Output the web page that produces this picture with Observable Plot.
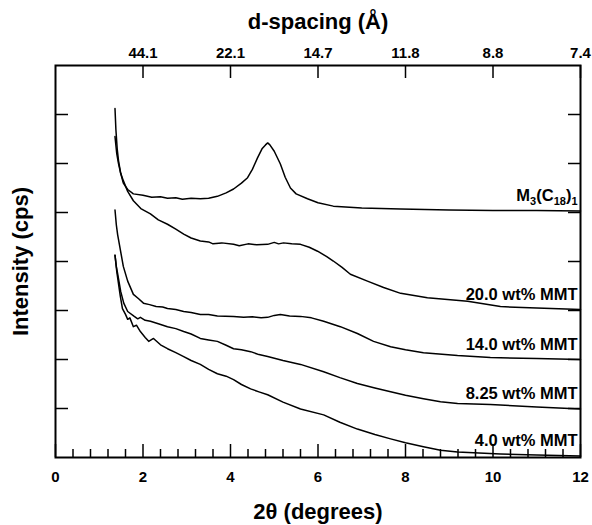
<!DOCTYPE html>
<html><head><meta charset="utf-8">
<script src="https://cdn.jsdelivr.net/npm/d3@7"></script>
<script src="https://cdn.jsdelivr.net/npm/@observablehq/plot@0.6"></script>
<style>body{margin:0;background:#fff} svg{display:block}</style>
</head><body><div id="chart"></div>
<script>
const seriesNames = ["M3(C18)1", "20.0 wt% MMT", "14.0 wt% MMT", "8.25 wt% MMT", "4.0 wt% MMT"];

const m3C18 = [[1.36,7.12],[1.38,6.7],[1.41,6.3],[1.44,6.06],[1.49,5.8],[1.55,5.6],[1.65,5.47],[1.78,5.38],[2.0,5.35],[2.2,5.31],[2.4,5.32],[2.56,5.29],[2.75,5.30],[2.9,5.27],[3.1,5.29],[3.31,5.28],[3.5,5.29],[3.7,5.33],[3.9,5.4],[4.07,5.48],[4.25,5.6],[4.39,5.71],[4.5,5.88],[4.62,6.12],[4.72,6.3],[4.8,6.38],[4.85,6.42],[4.9,6.38],[5.0,6.25],[5.14,5.99],[5.25,5.72],[5.37,5.50],[5.5,5.38],[5.76,5.28],[6.0,5.2],[6.35,5.13],[7.0,5.09],[7.89,5.07],[9,5.05],[10,5.04],[11,5.04],[12,5.03]];
const mmt200 = [[1.36,6.55],[1.40,6.2],[1.44,6.0],[1.49,5.8],[1.55,5.65],[1.65,5.43],[1.78,5.24],[1.95,5.08],[2.17,4.97],[2.35,4.85],[2.56,4.76],[2.75,4.66],[2.93,4.56],[3.1,4.48],[3.31,4.42],[3.5,4.40],[3.6,4.36],[3.8,4.38],[4.07,4.35],[4.2,4.32],[4.4,4.36],[4.6,4.34],[4.85,4.35],[5.0,4.39],[5.1,4.36],[5.21,4.38],[5.4,4.36],[5.6,4.35],[5.8,4.29],[5.99,4.21],[6.2,4.1],[6.35,4.01],[6.55,3.88],[6.74,3.74],[7.13,3.60],[7.5,3.47],[7.89,3.35],[8.5,3.26],[9.42,3.19],[10.17,3.08],[11,3.05],[12,3.02]];
const mmt140 = [[1.36,5.05],[1.39,4.75],[1.42,4.55],[1.46,4.35],[1.55,3.9],[1.65,3.60],[1.78,3.33],[1.9,3.24],[2.01,3.15],[2.15,3.12],[2.3,3.08],[2.45,3.07],[2.56,3.04],[2.75,3.02],[2.93,2.98],[3.1,2.96],[3.31,2.92],[3.5,2.92],[3.7,2.89],[4.07,2.88],[4.3,2.86],[4.5,2.87],[4.7,2.85],[4.85,2.86],[5.0,2.9],[5.14,2.92],[5.35,2.89],[5.6,2.88],[5.85,2.85],[6.13,2.78],[6.51,2.67],[6.90,2.53],[7.27,2.37],[7.66,2.26],[8.0,2.2],[8.41,2.14],[9.19,2.08],[9.94,2.04],[11,2.02],[12,2.00]];
const mmt825 = [[1.36,4.13],[1.39,3.9],[1.42,3.75],[1.49,3.39],[1.56,3.15],[1.65,2.98],[1.8,2.88],[1.88,2.83],[1.94,2.86],[2.05,2.80],[2.17,2.78],[2.35,2.73],[2.56,2.67],[2.75,2.63],[2.93,2.57],[3.1,2.52],[3.31,2.43],[3.5,2.40],[3.70,2.37],[3.9,2.29],[4.07,2.22],[4.25,2.20],[4.46,2.16],[4.65,2.10],[4.85,2.06],[5.2,1.98],[5.6,1.90],[6.13,1.75],[6.5,1.63],[6.90,1.51],[7.3,1.42],[7.66,1.34],[8.0,1.27],[8.41,1.20],[8.8,1.14],[9.19,1.10],[9.94,1.08],[11,1.03],[12,0.99]];
const mmt40 = [[1.36,4.13],[1.40,3.8],[1.44,3.55],[1.48,3.3],[1.53,3.04],[1.6,2.92],[1.65,2.82],[1.7,2.85],[1.78,2.67],[1.85,2.70],[1.94,2.57],[2.05,2.45],[2.13,2.37],[2.24,2.43],[2.4,2.3],[2.56,2.22],[2.75,2.14],[2.93,2.06],[3.1,1.98],[3.31,1.90],[3.5,1.80],[3.70,1.71],[3.9,1.66],[4.07,1.59],[4.25,1.49],[4.46,1.40],[4.65,1.34],[4.85,1.28],[5.2,1.13],[5.6,0.99],[6.13,0.87],[6.5,0.72],[6.90,0.58],[7.3,0.47],[7.66,0.38],[8.0,0.3],[8.41,0.22],[8.8,0.15],[9.19,0.11],[10.17,0.07],[11,0.05],[12,0.03]];

const bottomTicks = [0, 2, 4, 6, 8, 10, 12];
const minorTicks = [0.4, 0.8, 1.2, 1.6, 2.4, 2.8, 3.2, 3.6, 4.4, 4.8, 5.2, 5.6, 6.4, 6.8, 7.2, 7.6, 8.4, 8.8, 9.2, 9.6, 10.4, 10.8, 11.2, 11.6];
const topTicks = [2, 4, 6, 8, 10, 12];
const topTickLabels = ["44.1", "22.1", "14.7", "11.8", "8.8", "7.4"];
const yTicks = [1, 2, 3, 4, 5, 6, 7];

const series = [m3C18, mmt200, mmt140, mmt825, mmt40];
const data = series.flatMap((s, i) => s.map(([x, y]) => ({x, y, name: seriesNames[i]})));
const labels = series.map((s, i) => ({x: s[s.length - 1][0], y: s[s.length - 1][1], text: seriesNames[i]}));

const W = 592, H = 525, mL = 55, mR = 12, mT = 65, mB = 68;
const innerH = H - mT - mB, innerW = W - mL - mR;

const chart = Plot.plot({
  width: W, height: H,
  marginLeft: mL, marginRight: mR, marginTop: mT, marginBottom: mB,
  x: {domain: [0, 12], axis: null},
  y: {domain: [0, 8], axis: null},
  style: {fontFamily: '"Liberation Sans", Arial, sans-serif', fontWeight: "bold", fontSize: "15px", color: "#000", background: "#fff"},
  marks: [
    Plot.line(data, {x: "x", y: "y", z: "name", stroke: "#000", strokeWidth: 1.5}),
    Plot.tickX(bottomTicks, {x: d => d, insetTop: innerH - 13, stroke: "#000", strokeWidth: 1.5}),
    Plot.tickX(minorTicks, {x: d => d, insetTop: innerH - 8, stroke: "#000", strokeWidth: 1.5}),
    Plot.tickX(topTicks, {x: d => d, insetBottom: innerH - 13, stroke: "#000", strokeWidth: 1.5}),
    Plot.tickY(yTicks, {y: d => d, insetRight: innerW - 13, stroke: "#000", strokeWidth: 1.5}),
    Plot.tickY(yTicks, {y: d => d, insetLeft: innerW - 12, stroke: "#000", strokeWidth: 1.5}),
    Plot.axisX(bottomTicks, {anchor: "bottom", tickSize: 0, tickPadding: 14, label: null, fontSize: 15, fontWeight: "bold", tickFormat: d => String(d)}),
    Plot.axisX(topTicks, {anchor: "top", tickSize: 0, tickPadding: 8, label: null, fontSize: 15, fontWeight: "bold", tickFormat: d => topTickLabels[topTicks.indexOf(d)]}),
    Plot.frame({stroke: "#000", strokeWidth: 2}),
    Plot.text(labels, {x: "x", y: "y", text: "text", textAnchor: "end", dx: -3, dy: -15, fontSize: 16.5, fontWeight: "bold", fill: "#000"}),
    Plot.text(["2θ (degrees)"], {frameAnchor: "bottom", textAnchor: "middle", lineAnchor: "bottom", dy: 61, fontSize: 22, fontWeight: "bold", fill: "#000"}),
    Plot.text(["d-spacing (Å)"], {frameAnchor: "top", textAnchor: "middle", lineAnchor: "bottom", dy: -37, fontSize: 22, fontWeight: "bold", fill: "#000"}),
    Plot.text(["Intensity (cps)"], {frameAnchor: "left", textAnchor: "middle", lineAnchor: "bottom", dx: -28, rotate: -90, fontSize: 22, fontWeight: "bold", fill: "#000"})
  ]
});

// subscripts for M3(C18)1
d3.select(chart).selectAll("text").each(function() {
  if (this.textContent === "M3(C18)1") {
    const t = d3.select(this);
    t.text(null);
    const parts = [["M", false], ["3", true], ["(C", false], ["18", true], [")", false], ["1", true]];
    let sub = false;
    for (const [s, isSub] of parts) {
      const sp = t.append("tspan").text(s);
      if (isSub && !sub) sp.attr("dy", 4);
      if (!isSub && sub) sp.attr("dy", -4);
      if (isSub) sp.attr("font-size", 11);
      sub = isSub;
    }
  }
});

document.getElementById("chart").appendChild(chart);
</script>
</body></html>
